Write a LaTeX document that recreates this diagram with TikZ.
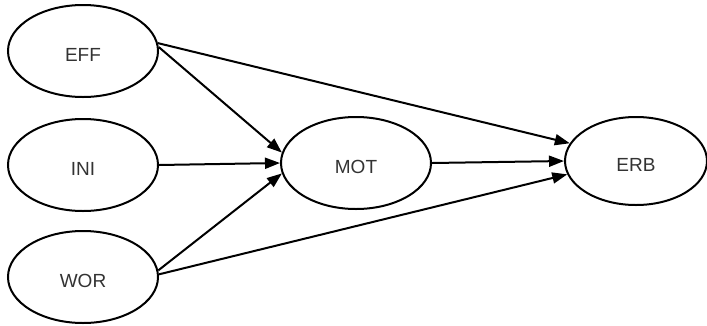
\documentclass[tikz,border=0pt]{standalone}
\usepackage{fontspec}
\setmainfont{Liberation Sans}
\usetikzlibrary{shapes.geometric,arrows.meta}
\begin{document}
\begin{tikzpicture}[x=1pt,y=-1pt,
  var/.style={ellipse,draw=black,line width=2pt,minimum width=150pt,minimum height=92pt,inner sep=0pt,font=\fontsize{19}{22}\selectfont,text=black!80},
  lbl/.style={font=\fontsize{19}{22}\selectfont,text=black!80,inner sep=0pt},
  link/.style={line width=2pt,-{Triangle[length=15pt,width=11pt]}}]
\useasboundingbox (0,0) rectangle (707,325);
\node[var] (eff) at (83,51) {};
\node[var] (ini) at (83,165) {};
\node[var] (wor) at (83,277) {};
\node[var] (mot) at (356,163) {};
\node[var,minimum width=142pt,minimum height=88pt] (erb) at (636,161) {};
\node[lbl] (teff) at (83,55) {EFF};
\node[lbl] (tini) at (83,169) {INI};
\node[lbl] (twor) at (83,281) {WOR};
\node[lbl] (tmot) at (356,167) {MOT};
\node[lbl] (terb) at (636,165) {ERB};
\draw[link] (eff.3) -- (mot.172);
\draw[link] (eff.6) -- (erb.165);
\draw[link] (ini.east) -- (mot.west);
\draw[link] (wor.5) -- (mot.188);
\draw[link] (wor.2) -- (erb.191);
\draw[link] (mot.east) -- (erb.west);
\end{tikzpicture}
\end{document}
